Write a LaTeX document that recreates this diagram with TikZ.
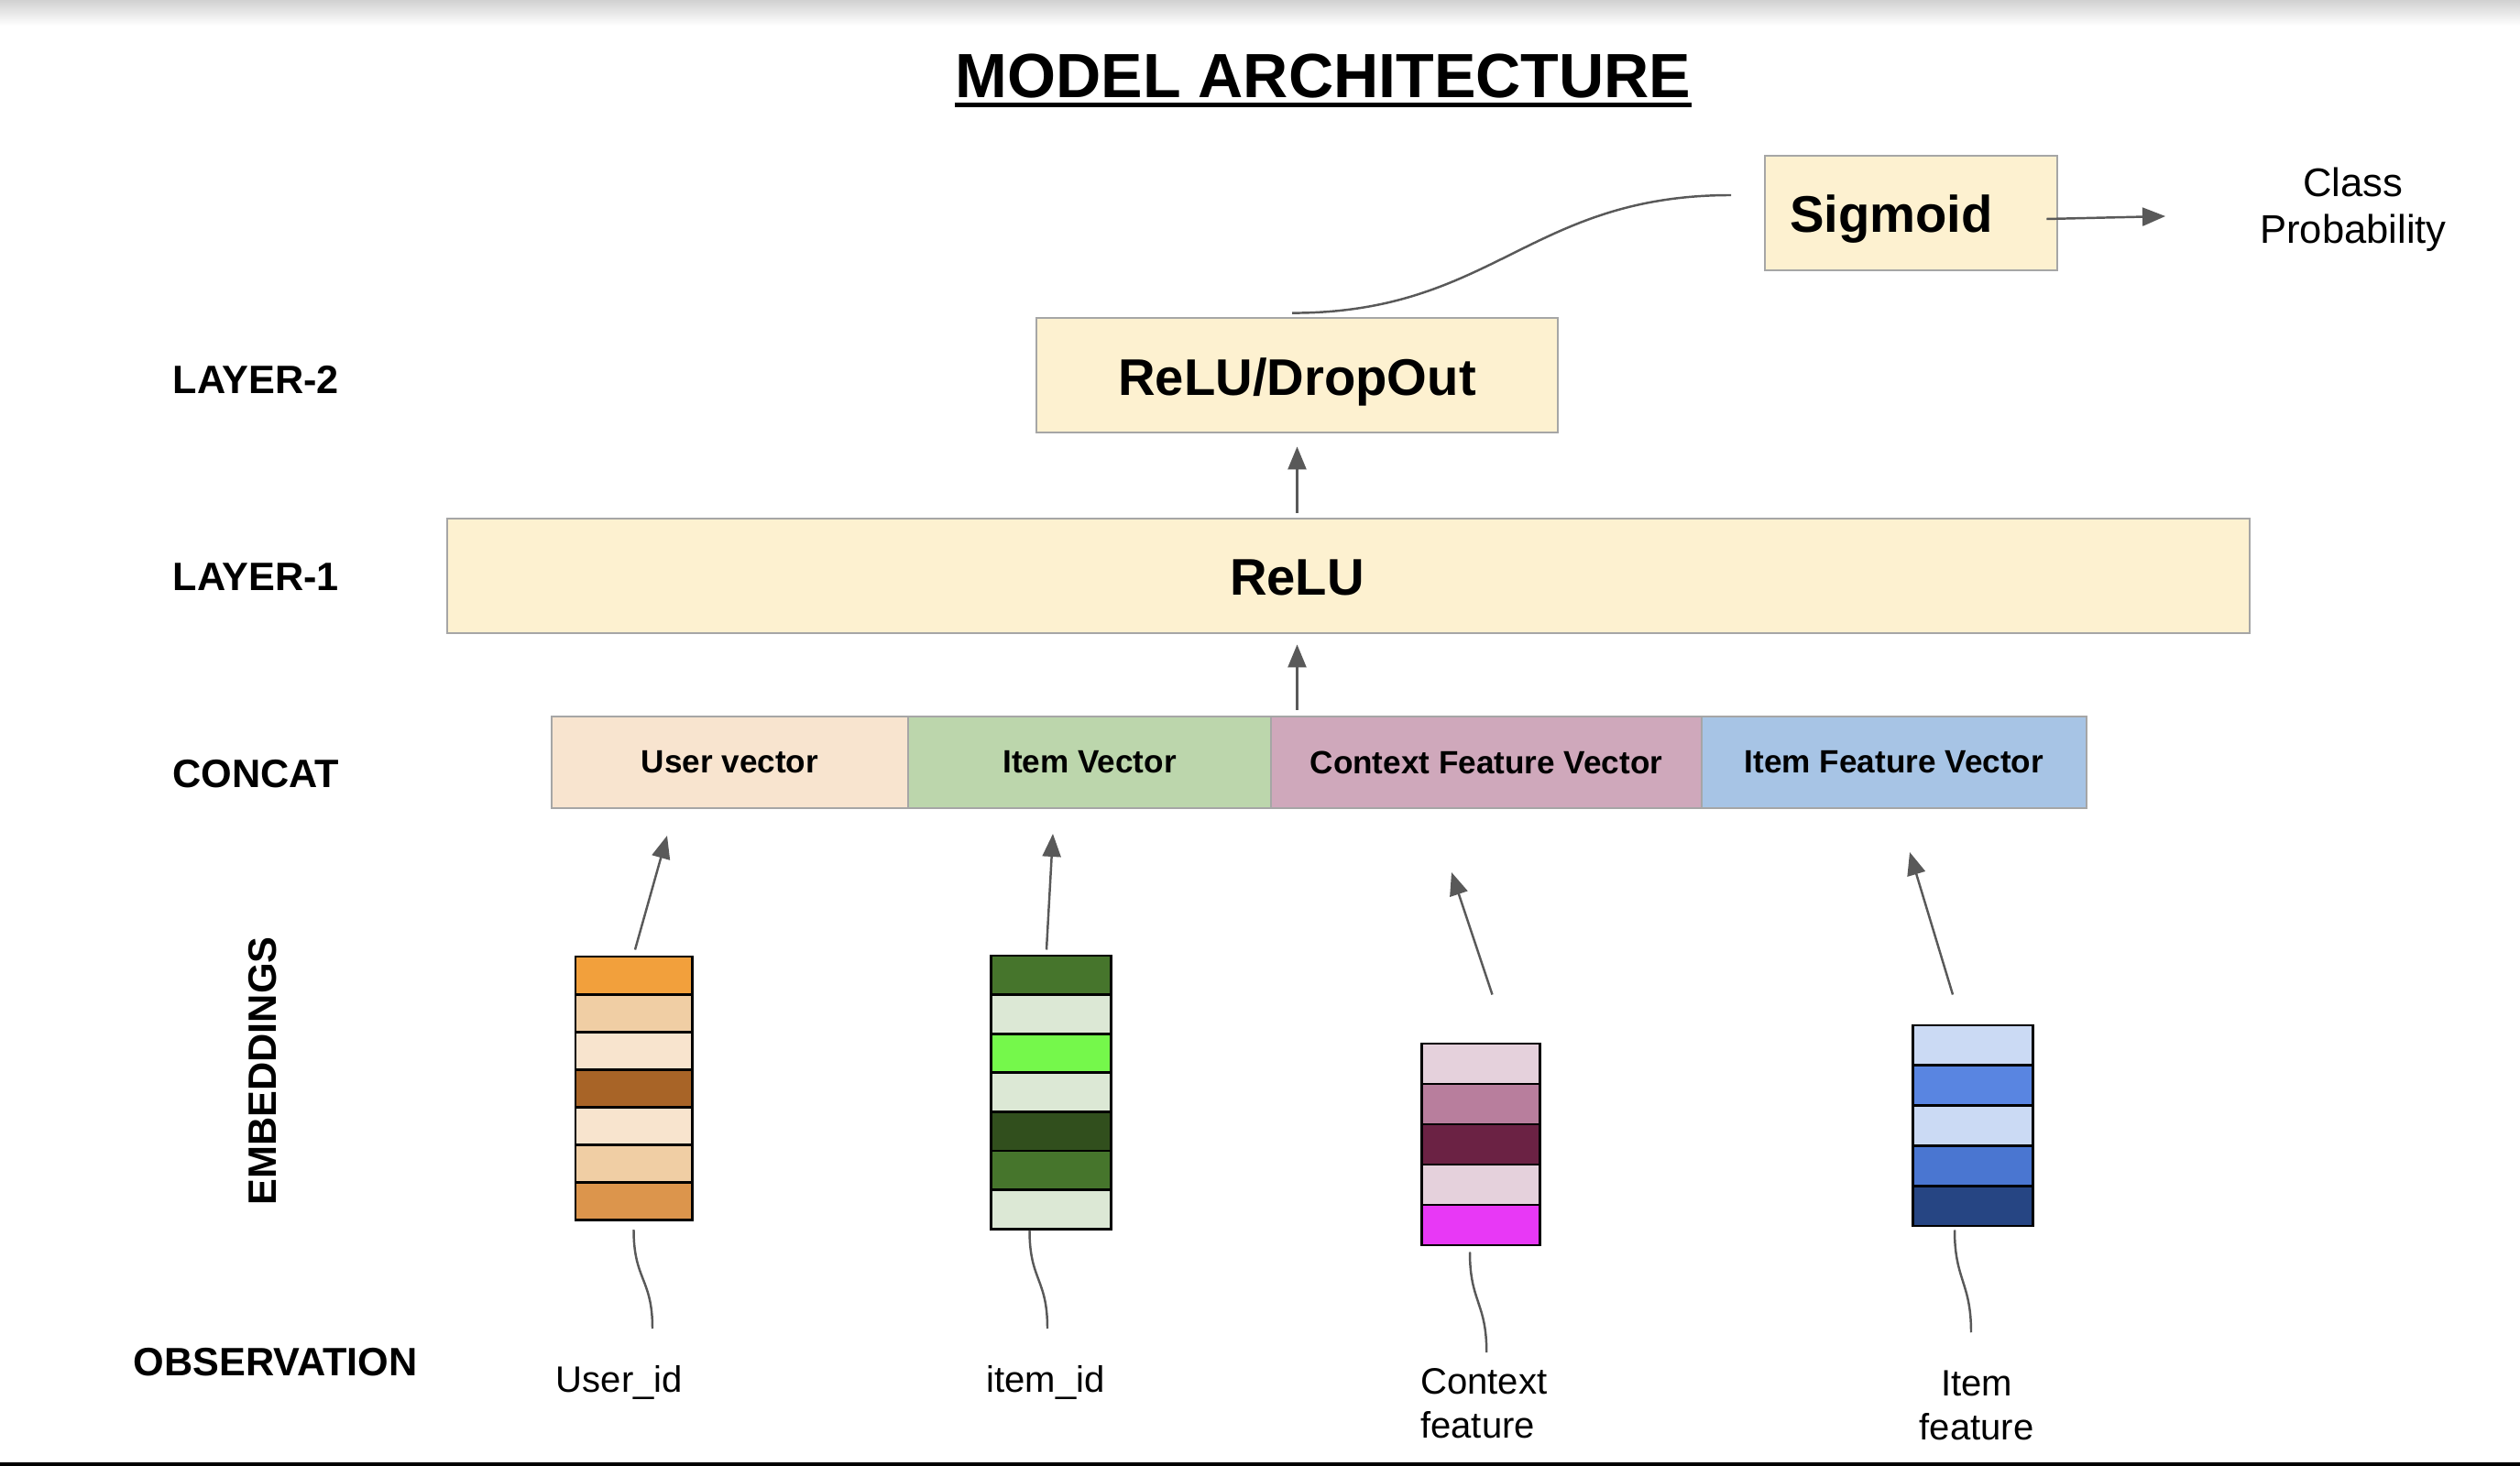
\documentclass[tikz,border=0pt]{standalone}
\usepackage{fontspec}
\setmainfont{Liberation Sans}
\usetikzlibrary{arrows.meta, positioning, calc}
\definecolor{boxfill}{HTML}{FDF1D0}
\definecolor{boxline}{HTML}{A6A6A6}
\definecolor{wiregray}{HTML}{595959}
\definecolor{uservec}{HTML}{F8E4CF}
\definecolor{itemvec}{HTML}{BCD6AC}
\definecolor{ctxvec}{HTML}{CFA8BB}
\definecolor{featvec}{HTML}{A7C4E5}
% embedding stripes
\definecolor{userA}{HTML}{F2A03C}
\definecolor{userB}{HTML}{F0CEA4}
\definecolor{userC}{HTML}{F8E4CE}
\definecolor{userD}{HTML}{A86427}
\definecolor{userE}{HTML}{DC954C}
\definecolor{itemA}{HTML}{46752C}
\definecolor{itemB}{HTML}{DCE8D5}
\definecolor{itemC}{HTML}{75F84B}
\definecolor{itemD}{HTML}{314F1D}
\definecolor{ctxA}{HTML}{E5D1DC}
\definecolor{ctxB}{HTML}{B87E9D}
\definecolor{ctxC}{HTML}{6B2244}
\definecolor{ctxD}{HTML}{E838F6}
\definecolor{featA}{HTML}{CBDAF4}
\definecolor{featB}{HTML}{5985E1}
\definecolor{featC}{HTML}{4A76D1}
\definecolor{featD}{HTML}{264583}

\begin{document}
\begin{tikzpicture}[
    layerbox/.style={draw=boxline, fill=boxfill, line width=0.8pt, minimum height=1.25cm},
    boxtext/.style={anchor=base, inner sep=0pt, font=\fontsize{16}{19}\selectfont\bfseries},
    cell/.style={draw=boxline, line width=0.8pt, minimum height=1cm, outer sep=0pt,
      font=\fontsize{10}{12}\selectfont\bfseries},
    stripe/.style={draw=black, line width=0.85pt, inner sep=0pt},
    rowlabel/.style={anchor=west, inner sep=0pt, font=\fontsize{12.3}{14}\selectfont\bfseries},
    obslabel/.style={inner sep=0pt, font=\fontsize{11.4}{13.7}\selectfont},
    wire/.style={wiregray, line width=0.7pt},
    uparrow/.style={wire, -{Triangle[length=0.25cm,width=0.2cm]}}
  ]
  \useasboundingbox (0,0) rectangle (27.5,-16);

  % Top shadow and bottom rule
  \shade[top color=black!18, bottom color=white] (0,0) rectangle (27.5,-0.28);
  \fill[black] (0,-15.96) rectangle (27.5,-16);

  % Title
  \node[anchor=base, inner sep=0pt, font=\fontsize{19.4}{23}\selectfont\bfseries] (title) at (14.44,-1.07) {MODEL ARCHITECTURE};
  \draw[line width=1.6pt] ([yshift=-0.075cm]title.base west) -- ([yshift=-0.075cm]title.base east);

  % Row labels
  \node[rowlabel] (lbltwo) at (1.88,-4.14) {LAYER-2};
  \node[rowlabel] (lblone) at (1.88,-6.30) {LAYER-1};
  \node[rowlabel] (lblcat) at (1.88,-8.45) {CONCAT};
  \node[rowlabel, anchor=center, rotate=90] (lblemb) at (2.87,-11.69) {EMBEDDINGS};
  \node[rowlabel] (lblobs) at (1.45,-14.87) {OBSERVATION};

  % Layers
  \node[layerbox, minimum width=3.19cm] (sigmoid) at (20.855,-2.325) {};
  \node[layerbox, minimum width=5.69cm] (dropout) at (14.155,-4.095) {};
  \node[layerbox, minimum width=19.67cm] (relu) at (14.715,-6.285) {};
  \node[boxtext] (sigtxt) at ([xshift=-0.215cm,yshift=-0.21cm]sigmoid.center) {Sigmoid};
  \node[boxtext] (droptxt) at ([yshift=-0.22cm]dropout.center) {ReLU/DropOut};
  \node[boxtext] (relutxt) at ($(relu.center -| dropout.center)+(0,-0.21)$) {ReLU};
  \node[align=center, inner sep=0pt, font=\fontsize{12.4}{14.6}\selectfont] (prob) at (25.68,-2.29) {Class\\Probability};

  % Concatenated vector
  \node[cell, fill=uservec, minimum width=3.89cm] (uvec) at (7.965,-8.32) {User vector};
  \node[cell, fill=itemvec, minimum width=3.96cm, right=0pt of uvec] (ivec) {Item Vector};
  \node[cell, fill=ctxvec, minimum width=4.70cm, right=0pt of ivec] (cvec) {Context Feature Vector};
  \node[cell, fill=featvec, minimum width=4.20cm, right=0pt of cvec] (fvec) {Item Feature Vector};

  % Embedding bars
  \foreach \name/\x/\top/\w/\h/\cols in {
      ubar/6.915/10.44/1.27/0.411/{userA,userB,userC,userD,userC,userB,userE},
      ibar/11.465/10.43/1.31/0.426/{itemA,itemB,itemC,itemB,itemD,itemA,itemB},
      cbar/16.155/11.39/1.29/0.44/{ctxA,ctxB,ctxC,ctxA,ctxD},
      fbar/21.525/11.19/1.31/0.438/{featA,featB,featA,featC,featD}} {
    \foreach \c [count=\i] in \cols {
      \node[stripe, fill=\c, minimum width=\w cm, minimum height=\h cm] (\name-\i) at (\x,{-\top-\h*(\i-0.5)}) {};
    }
  }

  % Observations
  \node[obslabel, anchor=base] (uid) at (6.76,-15.19) {User\_id};
  \node[obslabel, anchor=base] (iid) at (11.41,-15.19) {item\_id};
  \node[obslabel, align=left, anchor=west] (ctx) at (15.495,-15.32) {Context\\feature};
  \node[obslabel, align=center] (ift) at (21.57,-15.34) {Item\\feature};

  % Arrow tips below the concat row
  \coordinate (utip) at (7.28,-9.12);
  \coordinate (itip) at (11.49,-9.10);
  \coordinate (ctip) at (15.84,-9.52);
  \coordinate (ftip) at (20.84,-9.30);
  \coordinate (sigin) at (18.89,-2.13);
  \coordinate (probtip) at (23.63,-2.36);

  % Embeddings up to concat
  \draw[uparrow] ([xshift=0.015cm,yshift=0.06cm]ubar-1.north) -- (utip);
  \draw[uparrow] ([xshift=-0.045cm,yshift=0.05cm]ibar-1.north) -- (itip);
  \draw[uparrow] ([xshift=0.13cm,yshift=0.52cm]cbar-1.north) -- (ctip);
  \draw[uparrow] ([xshift=-0.215cm,yshift=0.32cm]fbar-1.north) -- (ftip);

  % Observations into embeddings
  \draw[wire] ([yshift=-0.09cm]ubar-7.south) .. controls +(0,-0.55) and +(0,0.55) .. ([xshift=0.36cm,yshift=0.69cm]uid.base);
  \draw[wire] ([xshift=-0.23cm]ibar-7.south) .. controls +(0,-0.55) and +(0,0.55) .. ([xshift=0.02cm,yshift=0.69cm]iid.base);
  \draw[wire] ([xshift=-0.115cm,yshift=-0.06cm]cbar-5.south) .. controls +(0,-0.55) and +(0,0.55) .. ([xshift=0.03cm,yshift=0.17cm]ctx.north);
  \draw[wire] ([xshift=-0.195cm,yshift=-0.03cm]fbar-5.south) .. controls +(0,-0.55) and +(0,0.55) .. ([xshift=-0.06cm,yshift=0.41cm]ift.north);

  % Layer to layer
  \draw[uparrow] ([yshift=0.07cm]cvec.north -| dropout.south) -- ([yshift=-0.11cm]relu.south -| dropout.south);
  \draw[uparrow] ([yshift=0.05cm]relu.north -| dropout.south) -- ([yshift=-0.14cm]dropout.south);
  \draw[wire] ([xshift=-0.055cm,yshift=0.04cm]dropout.north) .. controls +(2.2,0) and +(-2.2,0) .. (sigin);
  \draw[uparrow] ([xshift=-0.13cm,yshift=-0.065cm]sigmoid.east) -- (probtip);
\end{tikzpicture}
\end{document}
